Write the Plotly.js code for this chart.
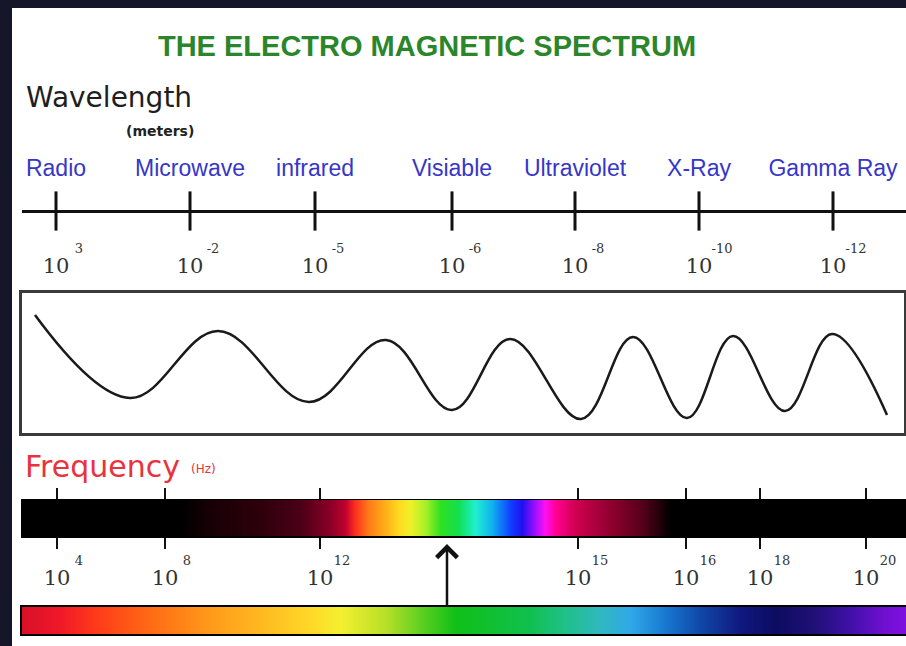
<!DOCTYPE html>
<html><head><meta charset="utf-8">
<script src="https://cdn.plot.ly/plotly-3.0.1.min.js"></script>
<style>html,body{margin:0;padding:0;background:#16162a;overflow:hidden}#chart{width:906px;height:646px}</style>
</head><body><div id="chart"></div>
<script>
// ---------- data ----------
const chartTitle = 'THE ELECTRO MAGNETIC SPECTRUM';
const bands = ['Radio', 'Microwave', 'infrared', 'Visiable', 'Ultraviolet', 'X-Ray', 'Gamma Ray'];
const wavelengthExp = ['3', '-2', '-5', '-6', '-8', '-10', '-12'];
const wavelengthPos = [34, 168, 293, 430, 553, 677, 811];          // position along the scale
const frequencyExp = ['4', '8', '12', '15', '16', '18', '20'];
const frequencyPos = [35, 143, 298, 556, 664, 738, 844];          // position along the scale
const waveX = [13, 108, 196, 287, 364, 430, 488, 559, 611, 665, 711, 763, 810, 865];
const waveY = [118, 35, 102, 31, 93, 23, 94, 14, 96, 15, 97, 22, 99, 18];
const spectrumPos = [0, 158, 193, 238, 278, 308, 323, 333, 346, 361, 376, 388, 403, 418, 436, 453, 470, 488, 500, 513, 523, 534, 553, 588, 618, 638, 648, 884];
const spectrumColor = ['#000000','#000000','#1a0006','#2e000c','#4a0016','#8a0026','#c00030','#ff3020','#ff7a18','#ffa818','#ffd820','#f0f028','#a8f028','#30e020','#10e050','#20f0d0','#10b0f0','#1040ff','#2010f0','#a010ff','#ff10f0','#ff0090','#d00050','#900030','#5a001c','#200008','#000000','#000000'];
const rainbowPos = [0, 38, 73, 128, 188, 238, 288, 318, 363, 398, 433, 468, 508, 543, 578, 608, 643, 678, 718, 753, 793, 828, 862, 884];
const rainbowColor = ['#d8102a','#f01828','#ff3a1a','#ff6a14','#ff9a1a','#ffb820','#ffd828','#f4f030','#b8e028','#60d020','#10c018','#10c030','#10c050','#20c088','#30b8c0','#30a8e8','#1878d0','#1048a8','#101880','#0c0c60','#201078','#4010a8','#7010d0','#8010e0'];
const visiblePos = 425;
const scaleMax = 884;

// ---------- helpers ----------
const W = 906, H = 646;
const px = p => p / W;
const py = p => 1 - p / H;
const X0 = px(22);
const mkScale = (pos, col) => pos.map((p, i) => [p / scaleMax, col[i]]);
const base = {showgrid:false, zeroline:false, showticklabels:false, ticks:'', fixedrange:true};
const tenFont = {family:'DejaVu Serif', size:21, color:'#333333'};
const expFont = {family:'DejaVu Serif', size:13, color:'#333333'};
const ghost = (xs, xa, ya) => ({type:'scatter', x:xs, y:xs.map(() => 0), xaxis:xa, yaxis:ya, mode:'markers',
                                marker:{opacity:0, size:1}, hoverinfo:'skip'});

const traces = [
  { type:'scatter', x:wavelengthPos, y:wavelengthPos.map(() => 0), xaxis:'x', yaxis:'y', mode:'markers',
    marker:{symbol:'line-ns', size:28, color:'#111111', line:{width:3, color:'#111111'}}, hoverinfo:'skip', cliponaxis:false },
  ghost(wavelengthPos, 'x2', 'y'),
  ghost(wavelengthPos, 'x6', 'y'),
  { type:'scatter', x:waveX, y:waveY, xaxis:'x3', yaxis:'y3', mode:'lines',
    line:{shape:'spline', smoothing:1.1, color:'#1a1a1a', width:2.5}, hoverinfo:'skip' },
  { type:'heatmap', x:spectrumPos, y:[0, 1], z:[spectrumPos, spectrumPos], xaxis:'x4', yaxis:'y4',
    colorscale:mkScale(spectrumPos, spectrumColor), zmin:0, zmax:scaleMax, zsmooth:'best', showscale:false, hoverinfo:'skip' },
  ghost(frequencyPos, 'x7', 'y4'),
  { type:'heatmap', x:rainbowPos, y:[0, 1], z:[rainbowPos, rainbowPos], xaxis:'x5', yaxis:'y5',
    colorscale:mkScale(rainbowPos, rainbowColor), zmin:0, zmax:scaleMax, zsmooth:'best', showscale:false, hoverinfo:'skip' }
];

const layout = {
  width:W, height:H, margin:{l:0, r:0, t:0, b:0, pad:0},
  paper_bgcolor:'#16162a', plot_bgcolor:'rgba(0,0,0,0)', showlegend:false,
  title:{text:chartTitle, xref:'paper', yref:'paper', x:px(427), xanchor:'center', y:py(46), yanchor:'middle',
         font:{family:'Liberation Sans', size:29, color:'#2b862b', weight:'bold'}},
  // wavelength scale
  xaxis:{...base, domain:[X0, 1], range:[0, scaleMax], anchor:'y', tickmode:'array', tickvals:wavelengthPos,
         ticktext:wavelengthPos.map(() => '10'), showticklabels:true, tickfont:tenFont, ticklabelstandoff:27},
  xaxis2:{...base, domain:[X0, 1], range:[0, scaleMax], anchor:'y', overlaying:'x', side:'top', tickmode:'array',
          tickvals:wavelengthPos, ticktext:bands, showticklabels:true,
          tickfont:{family:'Liberation Sans', size:23, color:'#3636c8'}, ticklabelstandoff:16},
  xaxis6:{...base, domain:[X0, 1], range:[0, scaleMax], anchor:'y', overlaying:'x', side:'bottom', tickmode:'array',
          tickvals:wavelengthPos, ticktext:wavelengthExp, showticklabels:true, tickfont:expFont,
          ticklabelstandoff:15, ticklabelshift:23},
  yaxis:{...base, domain:[py(224), py(198)], range:[-1, 1], anchor:'x', zeroline:true, zerolinecolor:'#111111', zerolinewidth:3},
  // wave box
  xaxis3:{...base, domain:[X0, px(904)], range:[0, 882], anchor:'y3', showline:true, mirror:true, linecolor:'#3a3a3a', linewidth:3},
  yaxis3:{...base, domain:[py(433), py(293)], range:[0, 140], anchor:'x3', showline:true, mirror:true, linecolor:'#3a3a3a', linewidth:3},
  // frequency bar
  xaxis4:{...base, domain:[X0, 1], range:[0, scaleMax], anchor:'y4', showline:true, mirror:'ticks', linecolor:'#000000', linewidth:1.5,
          ticks:'outside', ticklen:11, tickwidth:2.5, tickcolor:'#111111', tickmode:'array', tickvals:frequencyPos,
          ticktext:frequencyPos.map(() => '10'), showticklabels:true, tickfont:tenFont, ticklabelstandoff:11},
  xaxis7:{...base, domain:[X0, 1], range:[0, scaleMax], anchor:'y4', overlaying:'x4', side:'bottom', tickmode:'array',
          tickvals:frequencyPos, ticktext:frequencyExp, showticklabels:true, tickfont:expFont,
          ticklabelstandoff:15, ticklabelshift:22},
  yaxis4:{...base, domain:[py(536), py(500)], range:[0, 1], anchor:'x4', showline:true, mirror:true, linecolor:'#000000', linewidth:1.5},
  // rainbow bar
  xaxis5:{...base, domain:[X0, 1], range:[0, scaleMax], anchor:'y5', showline:true, mirror:true, linecolor:'#000000', linewidth:2},
  yaxis5:{...base, domain:[py(634), py(607)], range:[0, 1], anchor:'x5', showline:true, mirror:true, linecolor:'#000000', linewidth:2},
  shapes:[
    {type:'rect', xref:'paper', yref:'paper', x0:px(12), x1:1, y0:0, y1:py(8), fillcolor:'#ffffff', line:{width:0}, layer:'below'}
  ],
  annotations:[
    {xref:'paper', yref:'paper', x:px(24), y:py(98), xanchor:'left', yanchor:'middle', showarrow:false,
     text:'Wavelength', font:{family:'DejaVu Sans', size:28, color:'#1e1e1e'}},
    {xref:'paper', yref:'paper', x:px(160), y:py(131), xanchor:'center', yanchor:'middle', showarrow:false,
     text:'(meters)', font:{family:'DejaVu Sans', size:14, color:'#222222', weight:'bold'}},
    {xref:'paper', yref:'paper', x:px(23), y:py(466), xanchor:'left', yanchor:'middle', showarrow:false,
     text:'Frequency', font:{family:'DejaVu Sans', size:30, color:'#e8333d'}},
    {xref:'paper', yref:'paper', x:px(189), y:py(469), xanchor:'left', yanchor:'middle', showarrow:false,
     text:'(Hz)', font:{family:'DejaVu Sans', size:12, color:'#e8333d'}},
    {xref:'x4', yref:'paper', x:visiblePos, y:py(544), ax:0, ay:63, showarrow:true, arrowhead:4, arrowsize:1.6,
     arrowwidth:2.5, arrowcolor:'#111111', text:'', standoff:0}
  ]
};

Plotly.newPlot('chart', traces, layout, {staticPlot:true, displayModeBar:false});
</script>
</body></html>
